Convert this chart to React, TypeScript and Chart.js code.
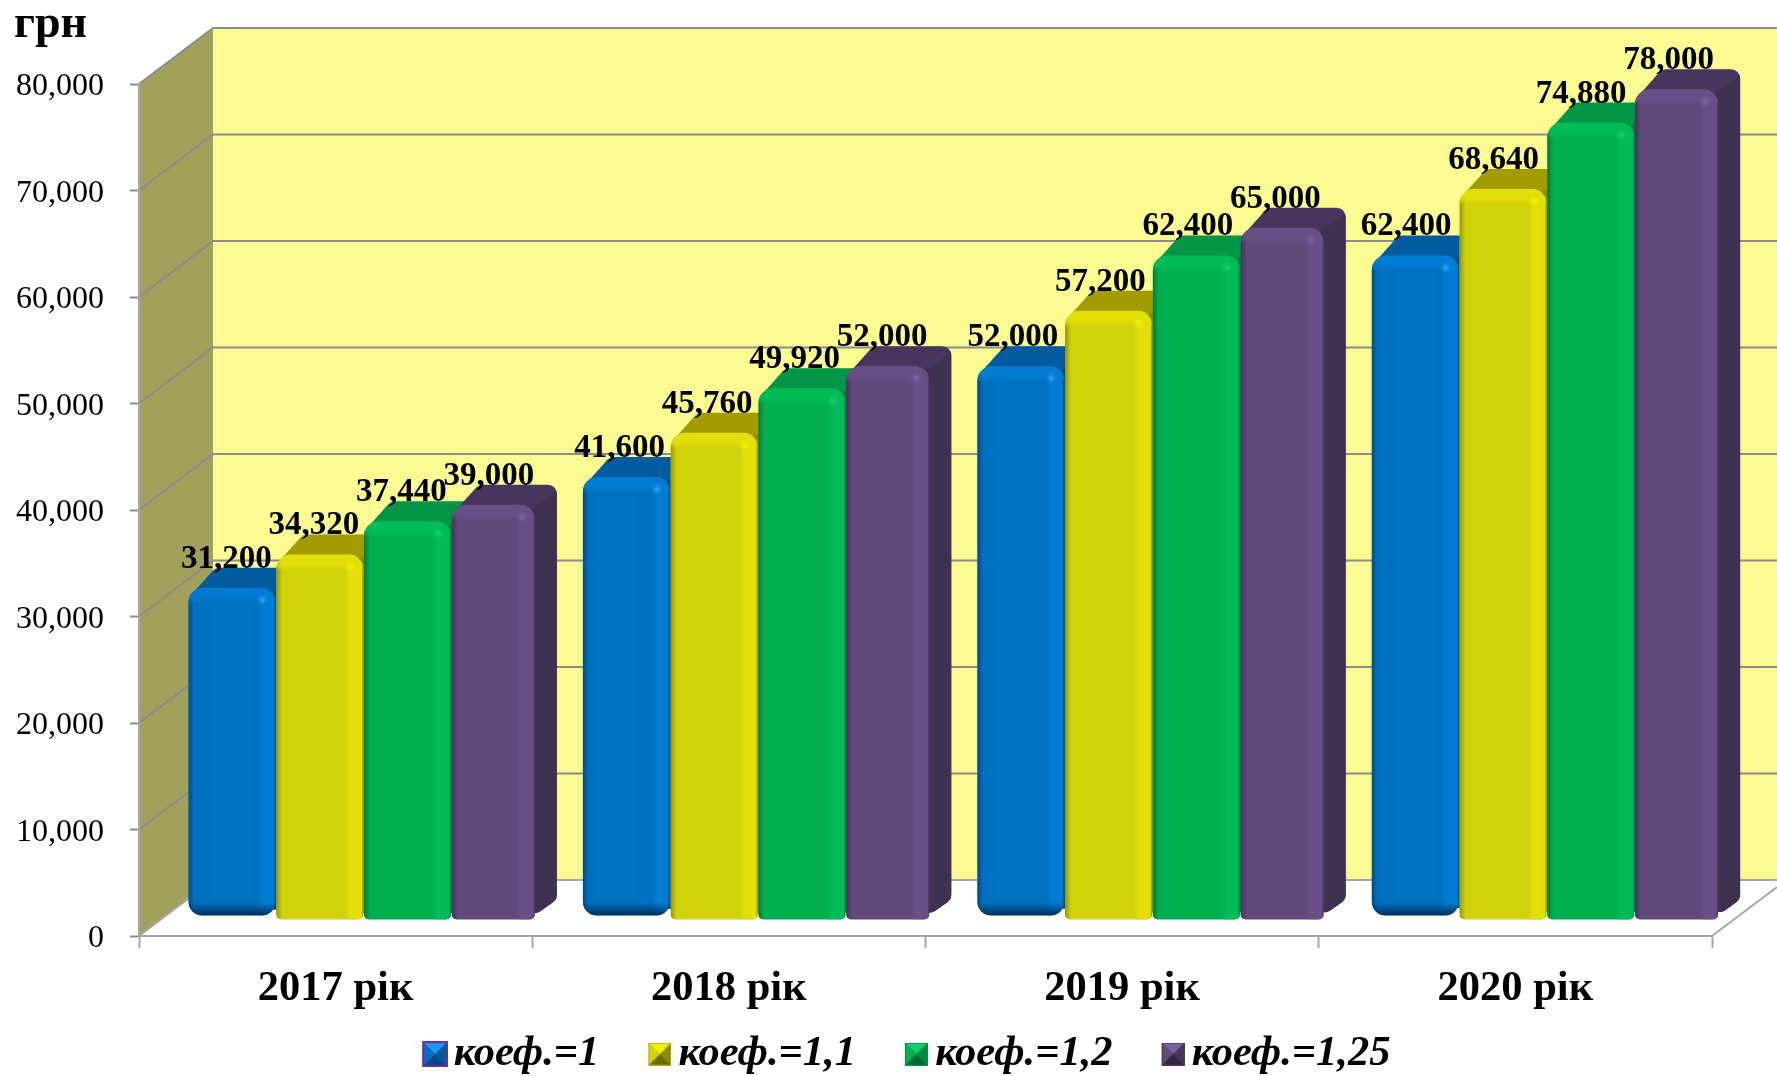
import React, { useEffect, useRef } from "react";
import { Chart, registerables } from "chart.js";

Chart.register(...registerables);

const categories = ["2017 рік", "2018 рік", "2019 рік", "2020 рік"];
const seriesNames = ["коеф.=1", "коеф.=1,1", "коеф.=1,2", "коеф.=1,25"];
const coef100 = [31200, 41600, 52000, 62400];
const coef110 = [34320, 45760, 57200, 68640];
const coef120 = [37440, 49920, 62400, 74880];
const coef125 = [39000, 52000, 65000, 78000];
const unitLabel = "грн";

const SERIF = "'Liberation Serif', 'Times New Roman', serif";
const WALL = "#FBFB91";
const SIDE_WALL = "#A1A15C";
const GRID = "#8C8C8C";
const FLOOR_LINE = "#A6A6A6";
const WALL_DX = 74;
const WALL_DY = 56;
const BAR_SHIFT_X = 26;
const BAR_SHIFT_Y = -16;
const BAR_SPREAD = 0.003;
const BAR_DX = 22;
const BAR_DY = 20;
const LEGEND_TOP = 976;
const LEGEND_SHIFT_X = 55;

const palettes = [
  { base: "#0070C0", hi: [0, 124, 210], spot: "#2A9DF0", top: "#005C9E", side: "#00507F", edge: [0, 40, 80], bottomDark: true, rim: "#7030A0", sw: ["#2196F0", "#0070C0", "#005C9E", "#004A80"], extend: 4 },
  { base: "#D0D20A", hi: [226, 224, 8], spot: "#F4F200", top: "#A29C00", side: "#8E8A00", edge: [90, 90, 0], bottomDark: false, rim: "#B0AE00", sw: ["#F0F000", "#D0D20A", "#8E8A00", "#6E6A00"], extend: 4 },
  { base: "#00B050", hi: [0, 188, 88], spot: "#14D06C", top: "#009646", side: "#00803C", edge: [0, 70, 30], bottomDark: false, rim: "#00904A", sw: ["#14D06C", "#00B050", "#008A40", "#006830"], extend: 4 },
  { base: "#604A7B", hi: [104, 80, 134], spot: "#7C62A0", top: "#46355C", side: "#3F3150", edge: [40, 28, 55], bottomDark: false, rim: "#4A3A60", sw: ["#7C62A0", "#604A7B", "#46355C", "#33263F"], extend: 0 },
];

function rgba(c: number[], a: number) {
  return `rgba(${c[0]},${c[1]},${c[2]},${a})`;
}

function roundPoly(ctx: CanvasRenderingContext2D, pts: number[][], r: number) {
  const n = pts.length;
  ctx.beginPath();
  const mid = (a: number[], b: number[]) => [(a[0] + b[0]) / 2, (a[1] + b[1]) / 2];
  const s = mid(pts[n - 1], pts[0]);
  ctx.moveTo(s[0], s[1]);
  for (let i = 0; i < n; i++) {
    const p = pts[i];
    const q = pts[(i + 1) % n];
    ctx.arcTo(p[0], p[1], q[0], q[1], r);
  }
  ctx.closePath();
}

function drawBar3D(ctx: CanvasRenderingContext2D, el: any, pal: any) {
  const half = el.width / 2;
  const cx = el.x + BAR_SHIFT_X + (el.x - 336) * BAR_SPREAD;
  const xL = cx - half;
  const xR = cx + half + pal.extend;
  const yT = el.y + BAR_SHIFT_Y;
  const yB = el.base + BAR_SHIFT_Y - (pal.bottomDark ? 4 : 0);
  const rt = 15;
  const rb = pal.bottomDark ? 14 : 5;

  // top + right faces
  ctx.save();
  const outline = [
    [xL + 2, yT + 8],
    [xL + 27, yT - BAR_DY],
    [xR + BAR_DX, yT - BAR_DY],
    [xR + BAR_DX, yB - BAR_DY],
    [xR - 6, yB],
  ];
  roundPoly(ctx, outline, 9);
  ctx.fillStyle = pal.top;
  ctx.fill();
  ctx.clip();
  ctx.fillStyle = pal.side;
  ctx.beginPath();
  ctx.moveTo(xR - 4, yT + 4);
  ctx.lineTo(xR + BAR_DX - 8, yT - BAR_DY + 12);
  ctx.lineTo(xR + BAR_DX + 2, yT - BAR_DY + 4);
  ctx.lineTo(xR + BAR_DX + 2, yB);
  ctx.lineTo(xR - 4, yB);
  ctx.closePath();
  ctx.fill();
  ctx.restore();

  // front face
  const w = xR - xL;
  const h = yB - yT;
  ctx.save();
  ctx.beginPath();
  ctx.roundRect(xL, yT, w, h, [rt, rt, rb, rb]);
  ctx.fillStyle = pal.base;
  ctx.fill();
  ctx.clip();

  const right = ctx.createLinearGradient(xR - 18, 0, xR, 0);
  right.addColorStop(0, rgba(pal.hi, 0));
  right.addColorStop(0.25, rgba(pal.hi, 1));
  right.addColorStop(0.9, rgba(pal.hi, 1));
  right.addColorStop(1, rgba(pal.edge, 0.3));
  ctx.fillStyle = right;
  ctx.fillRect(xR - 18, yT, 18, h);

  const left = ctx.createLinearGradient(xL, 0, xL + 6, 0);
  left.addColorStop(0, rgba(pal.edge, 0.5));
  left.addColorStop(1, rgba(pal.edge, 0));
  ctx.fillStyle = left;
  ctx.fillRect(xL, yT, 6, h);

  const top = ctx.createLinearGradient(0, yT, 0, yT + 16);
  top.addColorStop(0, rgba(pal.hi, 1));
  top.addColorStop(0.6, rgba(pal.hi, 0.9));
  top.addColorStop(1, rgba(pal.hi, 0));
  ctx.fillStyle = top;
  ctx.fillRect(xL, yT, w, 16);

  const spot = ctx.createRadialGradient(xR - 13, yT + 12, 1, xR - 13, yT + 12, 7);
  spot.addColorStop(0, pal.spot);
  spot.addColorStop(1, rgba(pal.hi, 0));
  ctx.fillStyle = spot;
  ctx.fillRect(xR - 20, yT + 5, 14, 14);

  if (pal.bottomDark) {
    const bottom = ctx.createLinearGradient(0, yB - 13, 0, yB);
    bottom.addColorStop(0, rgba(pal.edge, 0));
    bottom.addColorStop(1, rgba(pal.edge, 0.9));
    ctx.fillStyle = bottom;
    ctx.fillRect(xL, yB - 13, w, 13);
  }
  ctx.restore();
}

// The swatch canvas carries transparent room on its left so the visible square sits close to the text.
function makeSwatch(pal: any, size: number, pad: number, rimWidth: number) {
  const c = document.createElement("canvas");
  c.width = size + pad * 2;
  c.height = size;
  const g = c.getContext("2d") as CanvasRenderingContext2D;
  g.translate(pad * 2, 0);
  const m = size / 2;
  const tri = (pts: number[][], color: string) => {
    g.fillStyle = color;
    g.beginPath();
    g.moveTo(pts[0][0], pts[0][1]);
    g.lineTo(pts[1][0], pts[1][1]);
    g.lineTo(pts[2][0], pts[2][1]);
    g.closePath();
    g.fill();
  };
  g.fillStyle = pal.rim;
  g.fillRect(0, 0, size, size);
  const b = rimWidth;
  const e = size - b;
  tri([[b, b], [e, b], [m, m]], pal.sw[0]);
  tri([[b, b], [b, e], [m, m]], pal.sw[1]);
  tri([[e, b], [e, e], [m, m]], pal.sw[2]);
  tri([[b, e], [e, e], [m, m]], pal.sw[3]);
  return c;
}

const swatches = palettes.map((p, i) => makeSwatch(p, i === 0 ? 26 : 23, 3, i === 0 ? 2 : 1));

const wallPlugin = {
  id: "walls",
  beforeLayout(chart: any) {
    const legend = chart.legend;
    if (legend && !legend.__wrapped) {
      const fit = legend.fit;
      legend.fit = function () {
        fit.call(this);
        this.height = 60;
      };
      legend.__wrapped = true;
    }
  },
  afterLayout(chart: any) {
    if (chart.legend) {
      chart.legend.top = LEGEND_TOP;
      chart.legend.left += LEGEND_SHIFT_X;
      chart.legend.right += LEGEND_SHIFT_X;
    }
  },
  beforeDraw(chart: any) {
    const { ctx, chartArea, width } = chart;
    const y = chart.scales.y;
    const { left, right, top, bottom } = chartArea;
    const bx = left + WALL_DX;
    ctx.save();
    ctx.fillStyle = WALL;
    ctx.fillRect(bx, top - WALL_DY, width - bx, bottom - top);
    ctx.fillStyle = SIDE_WALL;
    ctx.beginPath();
    ctx.moveTo(left, top);
    ctx.lineTo(bx, top - WALL_DY);
    ctx.lineTo(bx, bottom - WALL_DY);
    ctx.lineTo(left, bottom);
    ctx.closePath();
    ctx.fill();

    ctx.lineWidth = 2;
    ctx.strokeStyle = GRID;
    y.ticks.forEach((t: any) => {
      if (t.value === 0) return;
      const py = y.getPixelForValue(t.value);
      ctx.beginPath();
      ctx.moveTo(left, py);
      ctx.lineTo(bx, py - WALL_DY);
      ctx.lineTo(width, py - WALL_DY);
      ctx.stroke();
    });
    ctx.strokeStyle = FLOOR_LINE;
    ctx.beginPath();
    ctx.moveTo(left, bottom);
    ctx.lineTo(bx, bottom - WALL_DY);
    ctx.lineTo(width, bottom - WALL_DY);
    ctx.stroke();
    ctx.beginPath();
    ctx.moveTo(right, bottom);
    ctx.lineTo(width, bottom - 49);
    ctx.stroke();
    ctx.restore();
  },
  beforeDatasetDraw() {
    return false;
  },
  afterDatasetsDraw(chart: any) {
    const { ctx } = chart;
    const metas = chart.data.datasets.map((_: any, i: number) => chart.getDatasetMeta(i));
    metas.forEach((meta: any, i: number) => {
      meta.data.forEach((el: any) => drawBar3D(ctx, el, palettes[i]));
    });
    ctx.save();
    ctx.fillStyle = "#000";
    ctx.font = `bold 33px ${SERIF}`;
    ctx.textAlign = "center";
    ctx.textBaseline = "alphabetic";
    metas.forEach((meta: any, i: number) => {
      meta.data.forEach((el: any, j: number) => {
        const v = chart.data.datasets[i].data[j] as number;
        ctx.fillText(v.toLocaleString("en-US"), el.x + 22, el.y - 36);
      });
    });
    ctx.font = `bold 46px ${SERIF}`;
    ctx.textAlign = "left";
    ctx.fillText(unitLabel, 14, 37);
    ctx.restore();
  },
};

export default function App() {
  const ref = useRef<HTMLCanvasElement | null>(null);
  useEffect(() => {
    const allSeries = [coef100, coef110, coef120, coef125];
    const chart = new Chart(ref.current as HTMLCanvasElement, {
      type: "bar",
      data: {
        labels: categories,
        datasets: allSeries.map((data, i) => ({
          label: seriesNames[i],
          data,
          backgroundColor: palettes[i].base,
          categoryPercentage: 0.89,
          barPercentage: 0.95,
        })),
      },
      options: {
        responsive: false,
        animation: false,
        events: [],
        layout: { padding: { left: 0, right: 65, top: 84, bottom: 0 } },
        plugins: {
          tooltip: { enabled: false },
          legend: {
            position: "bottom",
            labels: {
              usePointStyle: true,
              pointStyleWidth: 1,
              boxHeight: 26,
              padding: 57,
              color: "#000",
              font: { family: SERIF, size: 42.5, weight: "bold", style: "italic" },
              generateLabels(c: any) {
                return (Chart.defaults.plugins.legend.labels as any)
                  .generateLabels(c)
                  .map((it: any, i: number) => ({ ...it, pointStyle: swatches[i] }));
              },
            },
          },
        },
        scales: {
          x: {
            afterFit(scale: any) {
              scale.height = 80;
            },
            grid: {
              drawOnChartArea: false,
              drawTicks: true,
              tickLength: 12,
              tickColor: FLOOR_LINE,
              tickWidth: 2,
            },
            border: { display: true, color: FLOOR_LINE, width: 2 },
            ticks: {
              color: "#000",
              padding: 16,
              maxRotation: 0,
              font: { family: SERIF, size: 42.5, weight: "bold" },
            },
          },
          y: {
            min: 0,
            max: 80000,
            afterFit(scale: any) {
              scale.width = 139;
            },
            grid: {
              drawOnChartArea: false,
              drawTicks: true,
              tickLength: 9,
              tickColor: GRID,
              tickWidth: 2,
            },
            border: { display: true, color: FLOOR_LINE, width: 2 },
            ticks: {
              stepSize: 10000,
              color: "#000",
              padding: 26,
              labelOffset: 3,
              font: { family: SERIF, size: 32 },
              callback: (v: any) => Number(v).toLocaleString("en-US"),
            },
          },
        },
      } as any,
      plugins: [wallPlugin as any],
    });
    return () => chart.destroy();
  }, []);
  return (
    <div style={{ position: "absolute", left: 0, top: 0, width: 1777, height: 1076, background: "#fff", overflow: "hidden" }}>
      <canvas ref={ref} width={1777} height={1076} style={{ display: "block" }} />
    </div>
  );
}
